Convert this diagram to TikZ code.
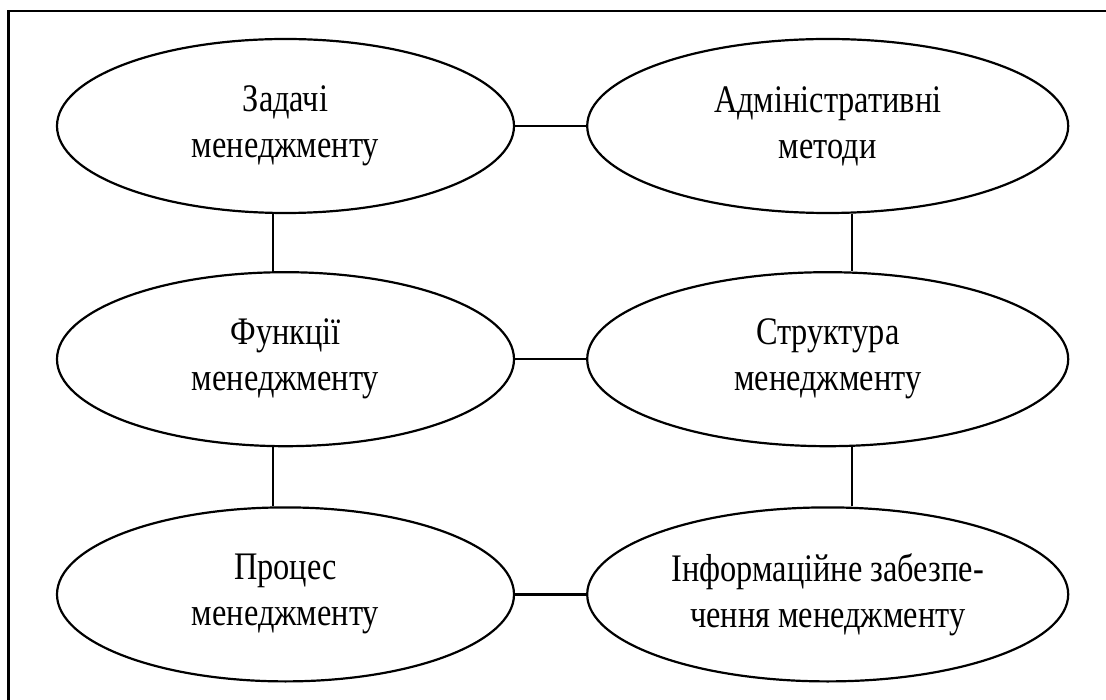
\documentclass[tikz,border=0pt]{standalone}
\usepackage{fontspec}
\setmainfont{Liberation Serif}[FakeStretch=0.83]
\usepackage{tikz}
\usetikzlibrary{shapes}
\usetikzlibrary{positioning}

\begin{document}
\begin{tikzpicture}
[x=1pt, y=1pt,
oval/.style   ={ellipse, draw, align=center, inner sep=0pt, minimum height=174pt, minimum width=457pt},
                    wide/.style   ={minimum width=481pt},
                    line/.style    ={draw},
                    node distance = 57pt,
                    line width=2.2pt,
                    font=\fontsize{39}{46}\selectfont]

\useasboundingbox (0,0) rectangle (1106,-700);
\clip (0,0) rectangle (1106,-700);
\draw (8.5,-11) rectangle (1130,-730);

\node[oval] (tasks) at (285.5,-126) {Задачі\\менеджменту};

\node[oval, wide, right=71pt of tasks] (admin) {Адміністративні\\методи};

\node[oval, below=of tasks] (functions) {Функції\\менеджменту};
\node[oval, wide, below=of admin] (structure) {Структура\\менеджменту};

\node[oval, below=59pt of functions] (process) {Процес\\менеджменту};
\node[oval, wide, below=59pt of structure] (info) {Інформаційне забезпе-\\чення менеджменту};

\path[line] (tasks) -- (admin);
\path[line] (functions) -- (structure);
\path[line] (process) -- (info);

\path[line] ([xshift=-12.5pt]tasks.south) -- ([xshift=-12.5pt]functions.north);
\path[line] ([xshift=-12.5pt]functions.south) -- ([xshift=-12.5pt]process.north);
\path[line] ([xshift=24.5pt]admin.south) -- ([xshift=24.5pt]structure.north);
\path[line] ([xshift=24.5pt]structure.south) -- ([xshift=24.5pt]info.north);
  \end{tikzpicture}
\end{document}
